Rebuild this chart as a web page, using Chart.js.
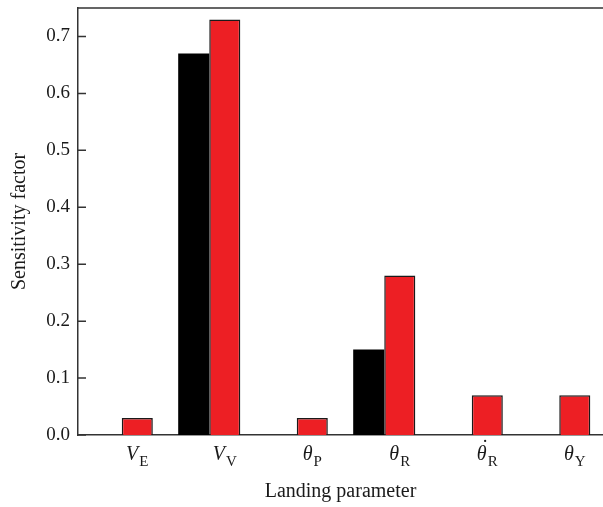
<!DOCTYPE html>
<html>
<head>
<meta charset="utf-8">
<script src="https://cdn.jsdelivr.net/npm/chart.js@4.4.0/dist/chart.umd.min.js"></script>
<style>
    html, body { margin: 0; padding: 0; background: #ffffff; }
    #wrap { width: 603px; height: 507px; position: relative; }
</style>
</head>
<body>
<div id="wrap"><canvas id="mainChart"></canvas></div>
<script>
// Data
const mainSymbols = ['V', 'V', '\u03B8', '\u03B8', '\u03B8', '\u03B8'];
const subSymbols = ['E', 'V', 'P', 'R', 'R', 'Y'];
const dotted = [false, false, false, false, true, false];
const categories = ['V_E', 'V_V', 'θ_P', 'θ_R', 'θ̇_R', 'θ_Y'];
const blackValues = [null, 0.67, null, 0.15, null, null];
const redValues = [0.03, 0.73, 0.03, 0.28, 0.07, 0.07];
const yTicks = [0, 0.1, 0.2, 0.3, 0.4, 0.5, 0.6, 0.7];

const serif = '"Liberation Serif", "DejaVu Serif", serif';
const axisColor = '#333333';

// Frame top line, inward ticks and the subscripted x labels
const customDraw = {
    id: 'customDraw',
    afterDraw(chart) {
        const ctx = chart.ctx;
        const area = chart.chartArea;
        const yScale = chart.scales.y;
        ctx.save();
        ctx.strokeStyle = axisColor;
        ctx.lineWidth = 1.5;
        ctx.beginPath();
        ctx.moveTo(area.left, area.top);
        ctx.lineTo(area.right, area.top);
        yTicks.forEach(v => {
            const y = yScale.getPixelForValue(v);
            ctx.moveTo(area.left, y);
            ctx.lineTo(area.left + 8, y);
        });
        ctx.stroke();

        const redMeta = chart.getDatasetMeta(1);
        ctx.fillStyle = '#1a1a1a';
        ctx.textBaseline = 'alphabetic';
        ctx.textAlign = 'left';
        categories.forEach((c, i) => {
            const cx = redMeta.data[i].x;
            const base = area.bottom + 25;
            ctx.font = 'italic 20px ' + serif;
            const w1 = ctx.measureText(mainSymbols[i]).width;
            ctx.font = '15px ' + serif;
            const w2 = ctx.measureText(subSymbols[i]).width;
            const x0 = cx - (w1 + w2 + 1) / 2;
            ctx.font = 'italic 20px ' + serif;
            ctx.fillText(mainSymbols[i], x0, base);
            if (dotted[i]) {
                ctx.textAlign = 'center';
                ctx.fillText('\u02D9', x0 + w1 / 2 + 2, base - 6);
                ctx.textAlign = 'left';
            }
            ctx.font = '15px ' + serif;
            ctx.fillText(subSymbols[i], x0 + w1 + 1, base + 6);
        });
        ctx.restore();
    }
};

document.addEventListener('DOMContentLoaded', function() {
    const ctx = document.getElementById('mainChart').getContext('2d');
    new Chart(ctx, {
        type: 'bar',
        data: {
            labels: categories,
            datasets: [
                {
                    label: 'black',
                    data: blackValues,
                    backgroundColor: '#000000',
                    borderColor: '#000000',
                    borderWidth: 0
                },
                {
                    label: 'red',
                    data: redValues,
                    backgroundColor: '#ed1f24',
                    borderColor: '#1a1a1a',
                    borderWidth: 1.5
                }
            ]
        },
        options: {
            responsive: true,
            maintainAspectRatio: false,
            animation: false,
            layout: { padding: { top: 8, right: 0, left: 0, bottom: 0 } },
            datasets: {
                bar: { categoryPercentage: 0.71, barPercentage: 1.0 }
            },
            plugins: {
                legend: { display: false },
                tooltip: { enabled: false }
            },
            scales: {
                x: {
                    offset: true,
                    grid: { display: false, drawTicks: false },
                    border: { display: true, color: axisColor, width: 1.5 },
                    ticks: { display: false },
                    afterFit: function(scale) {
                        scale.height = 72;
                        scale.paddingLeft = 0;
                        scale.paddingRight = 0;
                    },
                    title: {
                        display: true,
                        text: 'Landing parameter',
                        color: '#1a1a1a',
                        font: { family: serif, size: 20 },
                        padding: { top: 0, bottom: 3 }
                    }
                },
                y: {
                    min: 0,
                    max: 0.75,
                    afterFit: function(scale) {
                        scale.width = 78;
                        scale.paddingTop = 0;
                        scale.paddingBottom = 0;
                    },
                    afterBuildTicks: function(scale) {
                        scale.ticks = yTicks.map(v => ({ value: v }));
                    },
                    grid: { display: false, drawTicks: false },
                    border: { display: true, color: axisColor, width: 1.5 },
                    ticks: {
                        padding: 8,
                        color: '#1a1a1a',
                        font: { family: serif, size: 19 },
                        callback: function(value) { return value.toFixed(1); }
                    },
                    title: {
                        display: true,
                        text: 'Sensitivity factor',
                        color: '#1a1a1a',
                        font: { family: serif, size: 20 },
                        padding: { top: 8, bottom: 0 }
                    }
                }
            }
        },
        plugins: [customDraw]
    });
});
</script>
</body>
</html>
